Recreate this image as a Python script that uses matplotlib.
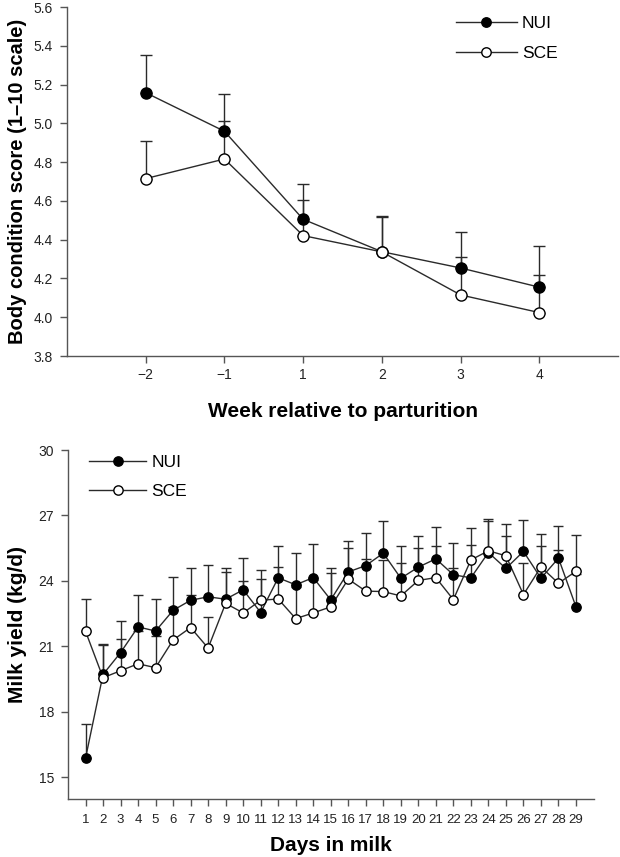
import numpy as np
import matplotlib
matplotlib.use("Agg")
import matplotlib.pyplot as plt

plt.rcParams['font.family'] = ['Liberation Sans', 'DejaVu Sans']

# ---- Top panel data: body condition score ----
weeks = ["\u22122", "\u22121", "1", "2", "3", "4"]
bcs_nui = [5.158, 4.959, 4.505, 4.338, 4.254, 4.155]
bcs_nui_se = [0.196, 0.192, 0.184, 0.183, 0.186, 0.211]
bcs_sce = [4.715, 4.816, 4.421, 4.337, 4.115, 4.024]
bcs_sce_se = [0.196, 0.196, 0.184, 0.181, 0.196, 0.194]

# ---- Bottom panel data: milk yield ----
days = list(range(1, 30))
milk_nui = [15.87, 19.71, 20.71, 21.89, 21.70, 22.65, 23.11, 23.27, 23.16, 23.59,
            22.55, 24.14, 23.82, 24.15, 23.13, 24.41, 24.70, 25.27, 24.12, 24.63,
            25.01, 24.28, 24.14, 25.30, 24.57, 25.35, 24.12, 25.04, 22.81]
milk_nui_se = [1.58, 1.41, 1.45, 1.48, 1.46, 1.53, 1.49, 1.45, 1.44, 1.48,
               1.54, 1.47, 1.44, 1.52, 1.44, 1.43, 1.48, 1.47, 1.49, 1.45,
               1.47, 1.46, 1.50, 1.44, 1.47, 1.44, 1.50, 1.48, 1.50]
milk_sce = [21.69, 19.56, 19.88, 20.20, 20.02, 21.29, 21.86, 20.92, 22.97, 22.53,
            23.11, 23.17, 22.27, 22.53, 22.81, 24.08, 23.53, 23.51, 23.31, 24.02,
            24.15, 23.14, 24.96, 25.38, 25.15, 23.37, 24.64, 23.89, 24.44]
milk_sce_se = [1.47, 1.49, 1.46, 1.48, 1.46, 1.53, 1.49, 1.43, 1.44, 1.47,
               1.41, 1.47, 1.44, 1.52, 1.53, 1.43, 1.48, 1.44, 1.49, 1.51,
               1.44, 1.47, 1.47, 1.44, 1.45, 1.46, 1.50, 1.51, 1.66]

W, H = 620, 857
fig = plt.figure(figsize=(W / 100, H / 100), dpi=100)

def box(x0, x1, ytop, ybot):
    return [x0 / W, 1 - ybot / H, (x1 - x0) / W, (ybot - ytop) / H]

T1 = (67, 618, 7, 356)
T2 = (68, 593.5, 450, 799)
ax1 = fig.add_axes(box(*T1))
ax2 = fig.add_axes(box(*T2))

LC = '#2a2a2a'
SPC = '#555555'

def style(ax):
    for s in ['top', 'right']:
        ax.spines[s].set_visible(False)
    for s in ['left', 'bottom']:
        ax.spines[s].set_color(SPC)
        ax.spines[s].set_linewidth(1.0)
    ax.tick_params(direction='out', length=5, width=1, color=SPC, labelcolor='#222222')
    ax.tick_params(axis='y', pad=5)

def draw(ax, x, m1, e1, m2, e2, ms, cap):
    z = np.zeros(len(x))
    ax.errorbar(x, m1, yerr=[z, e1], fmt='none', ecolor=LC, elinewidth=1.0,
                capsize=cap, capthick=1.0, zorder=1)
    ax.errorbar(x, m2, yerr=[z, e2], fmt='none', ecolor=LC, elinewidth=1.0,
                capsize=cap, capthick=1.0, zorder=1)
    ax.plot(x, m1, '-', color=LC, lw=1.0, zorder=2)
    ax.plot(x, m2, '-', color=LC, lw=1.0, zorder=2)
    ax.plot(x, m1, 'o', color=LC, mfc='black', mec='black', ms=ms, mew=1.0,
            ls='none', zorder=3)
    ax.plot(x, m2, 'o', color=LC, mfc='white', mec='black', ms=ms, mew=1.0,
            ls='none', zorder=4)
    h1, = ax.plot([], [], '-o', color=LC, lw=1.0, mfc='black', mec='black', ms=ms, label='NUI')
    h2, = ax.plot([], [], '-o', color=LC, lw=1.0, mfc='white', mec='black', ms=ms, label='SCE')
    return h1, h2

# ---- Top panel ----
style(ax1)
xw = np.arange(len(weeks))
h1, h2 = draw(ax1, xw, bcs_nui, bcs_nui_se, bcs_sce, bcs_sce_se, 8, 4.3)
ax1.set_xlim(-1, 6)
ax1.set_ylim(3.8, 5.6)
ax1.set_xticks(xw)
ax1.set_xticklabels(weeks, fontsize=10)
yt1 = np.round(np.arange(3.8, 5.61, 0.2), 1)
ax1.set_yticks(yt1)
ax1.set_yticklabels([f"{v:.1f}" for v in yt1], fontsize=10)
w1 = T1[1] - T1[0]; h1px = T1[3] - T1[2]
ax1.set_xlabel("Week relative to parturition", fontsize=15, fontweight='bold')
ax1.xaxis.set_label_coords(0.5, -(402 - T1[3]) / h1px)
ax1.set_ylabel("Body condition score (1\u201310 scale)", fontsize=14.5, fontweight='bold')
ax1.yaxis.set_label_coords((27 - T1[0]) / w1, 0.5)
leg1 = ax1.legend(handles=[h1, h2], loc='upper left', frameon=False, fontsize=12.5,
                  handlelength=3.5, handletextpad=0.3, labelspacing=0.85,
                  borderpad=0, borderaxespad=0, markerscale=0.85,
                  bbox_to_anchor=((456 - T1[0]) / w1, 1 - (16 - T1[2]) / h1px))

# ---- Bottom panel ----
style(ax2)
h1, h2 = draw(ax2, days, milk_nui, milk_nui_se, milk_sce, milk_sce_se, 6.7, 3.6)
ax2.set_xlim(0, 30)
ax2.set_ylim(14, 30)
ax2.set_xticks(days)
ax2.set_xticklabels([str(d) for d in days], fontsize=9.5)
ax2.tick_params(axis='x', pad=5.5)
ax2.set_yticks([15, 18, 21, 24, 27, 30])
ax2.set_yticklabels(["15", "18", "21", "24", "27", "30"], fontsize=10)
w2 = T2[1] - T2[0]; h2px = T2[3] - T2[2]
ax2.set_xlabel("Days in milk", fontsize=15, fontweight='bold')
ax2.xaxis.set_label_coords(0.5, -(836 - T2[3]) / h2px)
ax2.set_ylabel("Milk yield (kg/d)", fontsize=15, fontweight='bold')
ax2.yaxis.set_label_coords((27 - T2[0]) / w2, 0.5)
leg2 = ax2.legend(handles=[h1, h2], loc='upper left', frameon=False, fontsize=12.5,
                  handlelength=3.3, handletextpad=0.3, labelspacing=0.8,
                  borderpad=0, borderaxespad=0,
                  bbox_to_anchor=((89 - T2[0]) / w2, 1 - (455 - T2[2]) / h2px))

fig.savefig("out.png", dpi=100)
